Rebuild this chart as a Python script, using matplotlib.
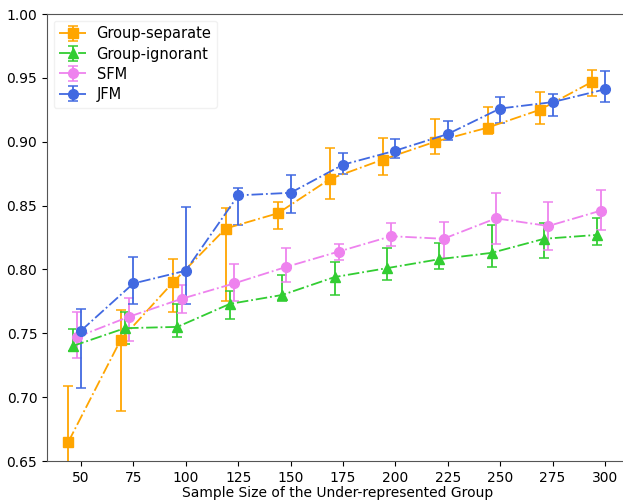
import matplotlib
matplotlib.use("Agg")
import matplotlib.pyplot as plt
import numpy as np

sizes = [50, 75, 100, 125, 150, 175, 200, 225, 250, 275, 300]

# Group-separate
sep_mean = [0.665, 0.745, 0.790, 0.832, 0.844, 0.871, 0.886, 0.900, 0.911, 0.925, 0.947]
sep_low  = [0.620, 0.689, 0.767, 0.775, 0.832, 0.855, 0.874, 0.890, 0.906, 0.914, 0.936]
sep_high = [0.709, 0.768, 0.808, 0.848, 0.853, 0.895, 0.903, 0.918, 0.927, 0.939, 0.956]

# Group-ignorant
ign_mean = [0.740, 0.754, 0.755, 0.773, 0.780, 0.794, 0.801, 0.808, 0.813, 0.824, 0.827]
ign_low  = [0.736, 0.742, 0.747, 0.761, 0.775, 0.780, 0.792, 0.800, 0.802, 0.809, 0.819]
ign_high = [0.753, 0.767, 0.773, 0.783, 0.796, 0.806, 0.817, 0.821, 0.835, 0.836, 0.840]

# SFM
sfm_mean = [0.747, 0.763, 0.777, 0.789, 0.802, 0.814, 0.826, 0.824, 0.840, 0.834, 0.846]
sfm_low  = [0.731, 0.744, 0.766, 0.775, 0.790, 0.807, 0.818, 0.809, 0.820, 0.815, 0.831]
sfm_high = [0.767, 0.778, 0.788, 0.804, 0.817, 0.820, 0.836, 0.837, 0.860, 0.853, 0.862]

# JFM
jfm_mean = [0.752, 0.789, 0.799, 0.858, 0.860, 0.882, 0.893, 0.906, 0.926, 0.931, 0.941]
jfm_low  = [0.707, 0.773, 0.773, 0.835, 0.844, 0.875, 0.887, 0.901, 0.915, 0.920, 0.931]
jfm_high = [0.769, 0.810, 0.849, 0.864, 0.874, 0.891, 0.902, 0.916, 0.935, 0.937, 0.955]

xticks = [50, 75, 100, 125, 150, 175, 200, 225, 250, 275, 300]
yticks = [0.65, 0.70, 0.75, 0.80, 0.85, 0.90, 0.95, 1.00]

series = [
    ("Group-separate", sep_mean, sep_low, sep_high, -6, "s", "orange"),
    ("Group-ignorant", ign_mean, ign_low, ign_high, -4, "^", "limegreen"),
    ("SFM", sfm_mean, sfm_low, sfm_high, -2, "o", "violet"),
    ("JFM", jfm_mean, jfm_low, jfm_high, 0, "o", "royalblue"),
]

fig = plt.figure(figsize=(6.23, 5.01), dpi=100)
ax = fig.add_axes([47 / 623, 40 / 501, 582 / 623, 447 / 501])

for label, mean, low, high, shift, marker, color in series:
    x = np.array(sizes) + shift
    m = np.array(mean)
    err = np.vstack([m - np.array(low), np.array(high) - m])
    ax.errorbar(x, m, yerr=err, label=label, color=color, marker=marker,
                markersize=7, linestyle="-.", linewidth=1.3, capsize=3.5,
                elinewidth=1.3, capthick=1.1)

ax.set_xlim(33.8, 311.5)
ax.set_ylim(0.65, 1.00)
ax.set_xticks(xticks)
ax.set_yticks(yticks)
ax.set_yticklabels([f"{t:.2f}" for t in yticks])
ax.tick_params(labelsize=10)
ax.set_xlabel("Sample Size of the Under-represented Group", fontsize=10, labelpad=1)
for s in ax.spines.values():
    s.set_color("#555555")
ax.spines["right"].set_visible(False)
leg = ax.legend(loc="upper left", fontsize=10.5, handlelength=1.8, handletextpad=0.75,
                labelspacing=0.35, borderpad=0.4, borderaxespad=0.45, framealpha=0.8)
leg.get_frame().set_edgecolor("#eeeeee")

fig.savefig("out.png", dpi=100)
